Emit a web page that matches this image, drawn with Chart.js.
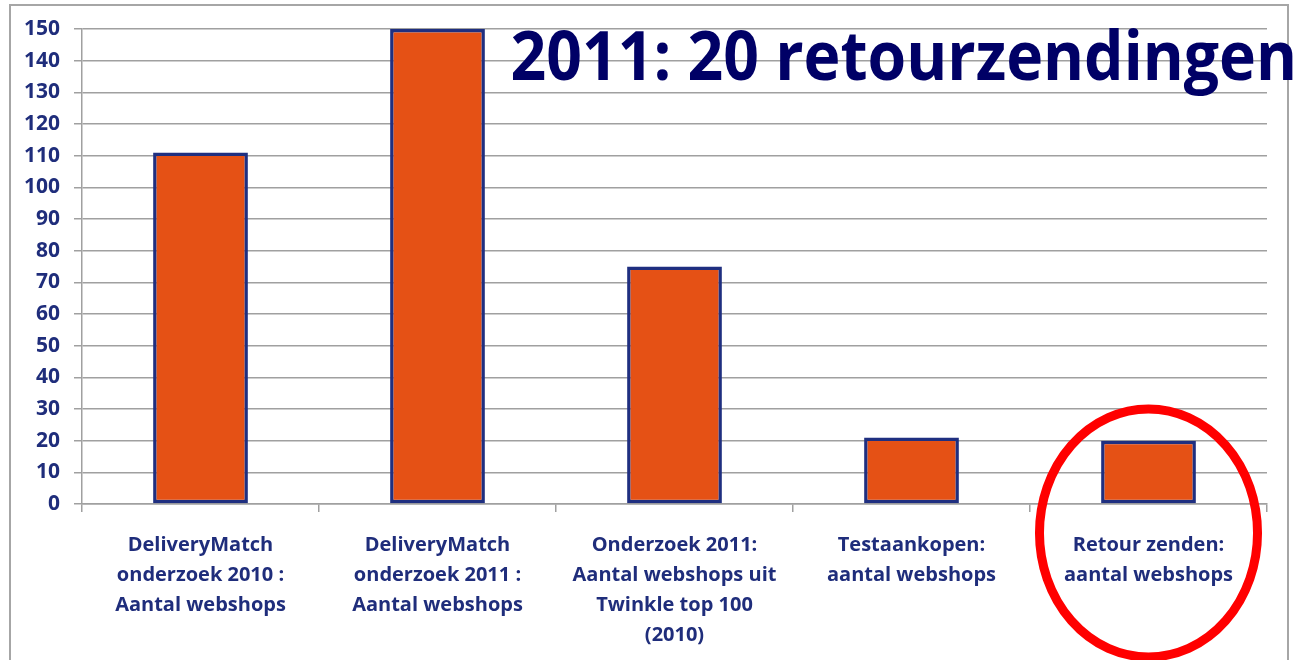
<!DOCTYPE html>
<html>
<head>
<meta charset="utf-8">
<script src="https://cdn.jsdelivr.net/npm/chart.js@4.4.1/dist/chart.umd.min.js"></script>
<style>
  html, body { margin: 0; padding: 0; background: #fff; overflow: hidden; }
  .frame {
    position: absolute; left: 9px; top: 4px; width: 1280px; height: 720px;
    border: 2px solid #a6a6a6; box-sizing: border-box;
  }
  .wrap { position: absolute; left: 0; top: 0; width: 1302px; height: 660px; }
</style>
</head>
<body>
<div class="frame"></div>
<div class="wrap"><canvas id="chart" width="1302" height="660"></canvas></div>
<script>
// Data
const categories = [
  ['DeliveryMatch', 'onderzoek 2010 :', 'Aantal webshops'],
  ['DeliveryMatch', 'onderzoek 2011 :', 'Aantal webshops'],
  ['Onderzoek 2011:', 'Aantal webshops uit', 'Twinkle top 100', '(2010)'],
  ['Testaankopen:', 'aantal webshops'],
  ['Retour zenden:', 'aantal webshops']
];
const values = [111, 150, 75, 21, 20];
const yTicks = [0, 150, 10]; // min, max, step

const headline = '2011: 20 retourzendingen';
const highlightIndex = 4;

const labelColor = '#1f2d7b';
const gridColor = '#a0a0a0';

// Draws the big headline and the red ellipse round the highlighted bar
const overlayPlugin = {
  id: 'overlay',
  afterDraw(chart) {
    const { ctx, chartArea, scales } = chart;
    const x = scales.x, y = scales.y;

    // red ellipse
    const catWidth = x.getPixelForValue(1) - x.getPixelForValue(0);
    const cx = x.getPixelForValue(highlightIndex);
    const cy = y.getPixelForValue(0) + 29;
    ctx.save();
    ctx.beginPath();
    ctx.ellipse(cx, cy, catWidth * 0.46, (cy - y.getPixelForValue(values[highlightIndex])) * 1.3 + 4, 0, 0, Math.PI * 2);
    ctx.lineWidth = 9;
    ctx.strokeStyle = '#ff0000';
    ctx.stroke();
    ctx.restore();

    // headline
    ctx.save();
    ctx.font = 'bold 68px "Open Sans"';
    ctx.fillStyle = '#000066';
    ctx.textBaseline = 'alphabetic';
    const w = ctx.measureText(headline).width;
    const left = x.getPixelForValue(1) + catWidth * 0.3 + 2;
    const targetW = chartArea.right + 30 - left;
    ctx.translate(left, y.getPixelForValue(134));
    ctx.scale(targetW / w, 1);
    ctx.fillText(headline, 0, 0);
    ctx.restore();
  }
};

const ctx = document.getElementById('chart').getContext('2d');
new Chart(ctx, {
  type: 'bar',
  data: {
    labels: categories,
    datasets: [{
      data: values,
      backgroundColor: '#e55115',
      borderColor: '#1f2f80',
      borderWidth: 3.5,
      borderSkipped: false,
      categoryPercentage: 1,
      barPercentage: 0.4
    }]
  },
  options: {
    responsive: false,
    animation: false,
    layout: { padding: { top: 29, right: 35, bottom: 0, left: 0 } },
    plugins: {
      legend: { display: false },
      tooltip: { enabled: false }
    },
    scales: {
      x: {
        grid: {
          offset: true,
          drawOnChartArea: false,
          drawTicks: true,
          tickLength: 8,
          color: gridColor,
          lineWidth: 1.5
        },
        border: { color: gridColor, width: 1.5 },
        ticks: {
          color: labelColor,
          font: { family: '"Open Sans"', weight: 'bold', size: 20, lineHeight: 1.5 },
          padding: 18,
          maxRotation: 0,
          autoSkip: false
        },
        afterFit(scale) { scale.height = 156; }
      },
      y: {
        min: yTicks[0],
        max: yTicks[1],
        grid: {
          color: gridColor,
          lineWidth: 1.5,
          tickLength: 8
        },
        border: { color: gridColor, width: 1.5 },
        ticks: {
          stepSize: yTicks[2],
          color: labelColor,
          font: { family: '"Open Sans"', weight: 'bold', size: 21 },
          padding: 14
        },
        afterFit(scale) { scale.width = 82; }
      }
    }
  },
  plugins: [overlayPlugin]
});
</script>
</body>
</html>
